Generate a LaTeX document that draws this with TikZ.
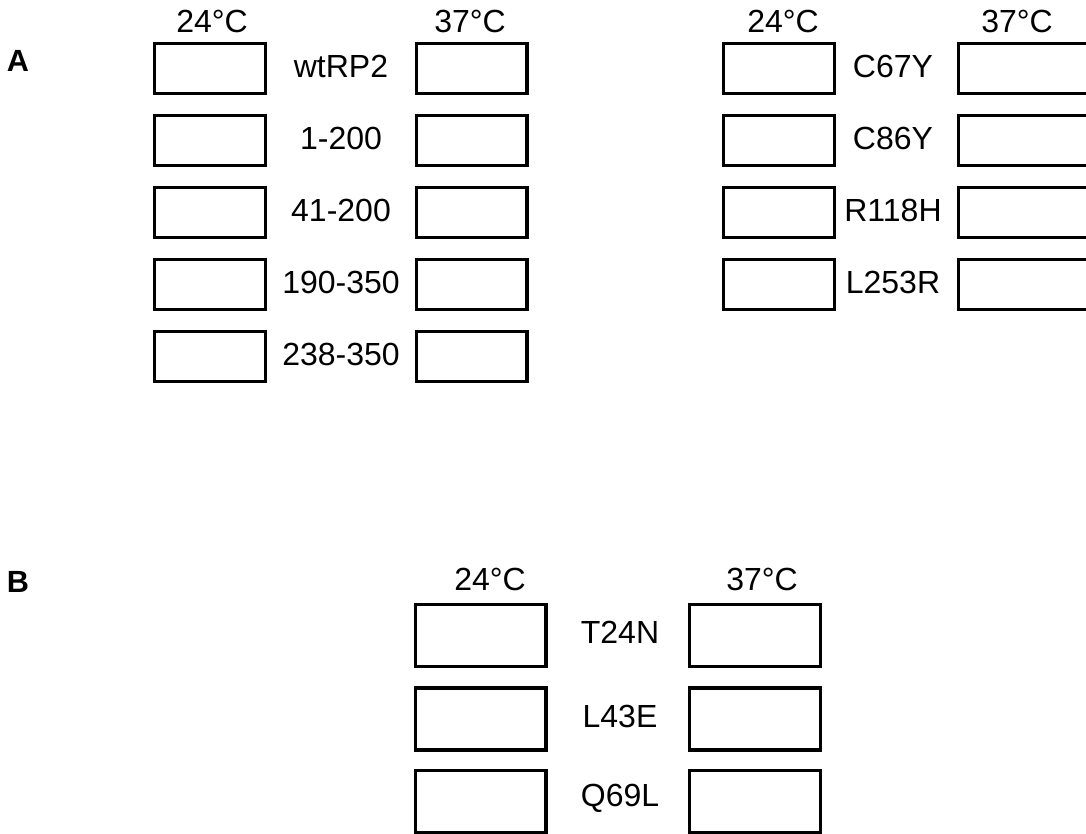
\documentclass[tikz,border=0pt]{standalone}
\usepackage{fontspec}
\setmainfont{Liberation Sans}
\usetikzlibrary{positioning}
\tikzset{
  panel/.style={draw,rectangle,line width=2.5pt,minimum width=83pt,minimum height=37.5pt,inner sep=0pt},
  widepanel/.style={panel,minimum width=112pt},
  bigpanel/.style={panel,minimum width=98pt,minimum height=46.5pt},
  txt/.style={font=\fontsize{24}{28}\selectfont,inner sep=0pt},
  head/.style={txt},
  tag/.style={txt,font=\fontsize{23}{27}\selectfont\bfseries}
}

\begin{document}
\begin{tikzpicture}[x=0.75pt,y=-0.75pt]
  \useasboundingbox (0,0) rectangle (1086,834);
  \clip (0,0) rectangle (1086,834);

  % panel A, deletions
  \node[tag] (la) at (18,61) {A};
  \node[head] (h1) at (212,21) {24°C};
  \node[head] (h2) at (470,21) {37°C};
  \node[panel] (a1) at (210,68.5) {};
  \node[panel] (a2) at (210,140.5) {};
  \node[panel] (a3) at (210,212.5) {};
  \node[panel] (a4) at (210,284.5) {};
  \node[panel] (a5) at (210,356.5) {};
  \node[txt] (n1) at (341,66) {wtRP2};
  \node[txt] (n2) at (341,138) {1-200};
  \node[txt] (n3) at (341,210) {41-200};
  \node[txt] (n4) at (341,282) {190-350};
  \node[txt] (n5) at (341,354) {238-350};
  \node[panel] (b1) at (471.5,68.5) {};
  \node[panel] (b2) at (471.5,140.5) {};
  \node[panel] (b3) at (471.5,212.5) {};
  \node[panel] (b4) at (471.5,284.5) {};
  \node[panel] (b5) at (471.5,356.5) {};

  % panel A, point mutants
  \node[head] (h3) at (783,21) {24°C};
  \node[head] (h4) at (1017,21) {37°C};
  \node[panel] (c1) at (779,68.5) {};
  \node[panel] (c2) at (779,140.5) {};
  \node[panel] (c3) at (779,212.5) {};
  \node[panel] (c4) at (779,284.5) {};
  \node[txt] (m1) at (893,66) {C67Y};
  \node[txt] (m2) at (893,138) {C86Y};
  \node[txt] (m3) at (893,210) {R118H};
  \node[txt] (m4) at (893,282) {L253R};
  \node[widepanel] (d1) at (1033,68.5) {};
  \node[widepanel] (d2) at (1033,140.5) {};
  \node[widepanel] (d3) at (1033,212.5) {};
  \node[widepanel] (d4) at (1033,284.5) {};

  % panel B
  \node[tag] (lb) at (18,582) {B};
  \node[head] (h5) at (490,579) {24°C};
  \node[head] (h6) at (762,579) {37°C};
  \node[bigpanel] (e1) at (480.5,635.5) {};
  \node[bigpanel] (e2) at (480.5,719) {};
  \node[bigpanel] (e3) at (480.5,801.5) {};
  \node[txt] (k1) at (620,632) {T24N};
  \node[txt] (k2) at (620,716) {L43E};
  \node[txt] (k3) at (620,798) {Q69L};
  \node[bigpanel] (f1) at (755,635.5) {};
  \node[bigpanel] (f2) at (755,719) {};
  \node[bigpanel] (f3) at (755,801.5) {};
\end{tikzpicture}
\end{document}
